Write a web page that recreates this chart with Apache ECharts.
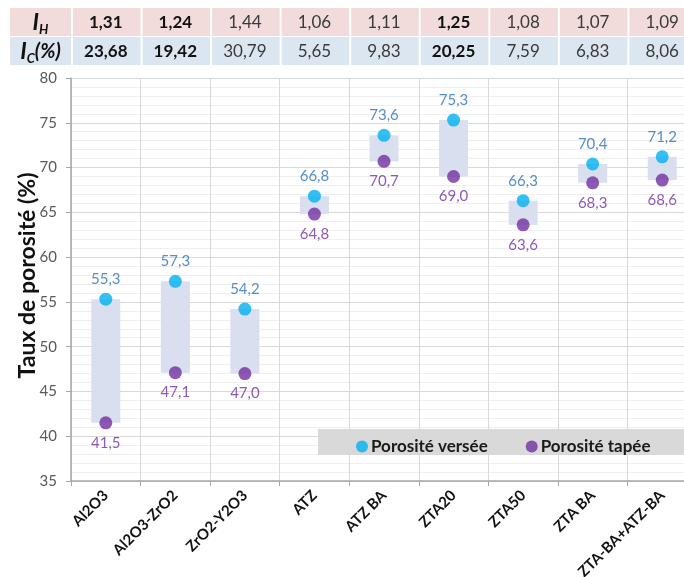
<!DOCTYPE html>
<html>
<head>
<meta charset="utf-8">
<script src="https://cdn.jsdelivr.net/npm/echarts@6/dist/echarts.min.js"></script>
<style>
  html, body { margin: 0; padding: 0; background: #ffffff; }
  #chart { width: 684px; height: 577px; }
</style>
</head>
<body>
<div id="chart"></div>
<script>
// Materials
const categories = ['Al2O3', 'Al2O3-ZrO2', 'ZrO2-Y2O3', 'ATZ', 'ATZ BA', 'ZTA20', 'ZTA50', 'ZTA BA', 'ZTA-BA+ATZ-BA'];
// Poured (bulk) and tapped porosity, %
const porositeVersee = [55.3, 57.3, 54.2, 66.8, 73.6, 75.3, 66.3, 70.4, 71.2];
const porositeTapee  = [41.5, 47.1, 47.0, 64.8, 70.7, 69.0, 63.6, 68.3, 68.6];
// Hausner ratio and Carr index table above the plot
const indiceHausner = ['1,31', '1,24', '1,44', '1,06', '1,11', '1,25', '1,08', '1,07', '1,09'];
const indiceCarr    = ['23,68', '19,42', '30,79', '5,65', '9,83', '20,25', '7,59', '6,83', '8,06'];
const colonnesGras  = [0, 1, 5];
// Y axis ticks and title
const yMin = 35, yMax = 80, yStep = 5;
const yTitle = 'Taux de porosité (%)';

const FONT = 'Lato';
const fmt = v => v.toFixed(1).replace('.', ',');

const chart = echarts.init(document.getElementById('chart'), null, { renderer: 'canvas' });

const rangeData = categories.map((c, i) => [i, porositeTapee[i], porositeVersee[i]]);

const option = {
  animation: false,
  backgroundColor: '#ffffff',
  textStyle: { fontFamily: FONT },
  grid: { left: 71, right: -13, top: 78, bottom: 96, containLabel: false, outerBoundsMode: 'none' },
  legend: {
    left: 351, top: 433,
    data: ['Porosité versée', 'Porosité tapée'],
    icon: 'circle', itemWidth: 12, itemHeight: 12, itemGap: 38,
    textStyle: { fontFamily: FONT, fontSize: 17, fontWeight: 'bold', color: '#1a1a1a', padding: [0, 0, 0, -2] }
  },
  xAxis: {
    type: 'category',
    data: categories,
    boundaryGap: true,
    axisLine: { show: true, lineStyle: { color: '#a6a6a6', width: 1.5 } },
    axisTick: { show: true, length: 5, lineStyle: { color: '#a6a6a6' } },
    splitLine: { show: true, interval: 0, lineStyle: { color: '#d9d9d9', width: 1 } },
    axisLabel: {
      interval: 0, rotate: 45, margin: 12,
      fontFamily: FONT, fontSize: 15, fontWeight: 'bold', color: '#111111'
    }
  },
  yAxis: {
    type: 'value',
    min: yMin, max: yMax, interval: yStep,
    axisLine: { show: true, lineStyle: { color: '#a6a6a6', width: 1.5 } },
    axisTick: { show: true, length: 5, lineStyle: { color: '#a6a6a6' } },
    axisLabel: { margin: 14, fontFamily: FONT, fontSize: 15, color: '#595959' },
    splitLine: { show: true, lineStyle: { color: '#d9d9d9', width: 1 } },
    minorTick: { show: false, splitNumber: 5 },
    minorSplitLine: { show: true, lineStyle: { color: '#efefef', width: 1 } }
  },
  series: [
    {
      name: 'plage',
      type: 'custom',
      silent: true,
      z: 1,
      encode: { x: 0, y: [1, 2] },
      data: rangeData,
      renderItem: function (params, api) {
        const bottom = api.coord([api.value(0), api.value(1)]);
        const top = api.coord([api.value(0), api.value(2)]);
        const w = 29;
        return {
          type: 'rect',
          shape: { x: top[0] - w / 2, y: top[1], width: w, height: bottom[1] - top[1] },
          style: { fill: '#d9dfef' }
        };
      }
    },
    {
      name: 'Porosité versée',
      type: 'scatter',
      z: 3,
      symbol: 'circle',
      symbolSize: 13,
      itemStyle: { color: '#00b0f0' },
      data: porositeVersee,
      label: {
        show: true, position: 'top', distance: 6,
        formatter: p => fmt(p.value),
        fontFamily: FONT, fontSize: 15, color: '#2a72b5'
      }
    },
    {
      name: 'Porosité tapée',
      type: 'scatter',
      z: 3,
      symbol: 'circle',
      symbolSize: 13,
      itemStyle: { color: '#7030a0' },
      data: porositeTapee,
      label: {
        show: true, position: 'bottom', distance: 6,
        formatter: p => fmt(p.value),
        fontFamily: FONT, fontSize: 15, color: '#7030a0'
      }
    }
  ]
};

chart.setOption(option);

// Y axis title and the table of indices, aligned on the axes
function buildExtras() {
  const c0 = chart.convertToPixel({ xAxisIndex: 0 }, 0);
  const c1 = chart.convertToPixel({ xAxisIndex: 0 }, 1);
  const catW = c1 - c0;
  const leftEdge = c0 - catW / 2;
  const yMid = chart.convertToPixel({ yAxisIndex: 0 }, (yMin + yMax) / 2);
  const rows = [
    { y: 8, h: 28, fill: '#f2dcdb', values: indiceHausner, sub: 'H', suffix: '' },
    { y: 37, h: 28, fill: '#dce6f1', values: indiceCarr, sub: 'C', suffix: '(%)' }
  ];
  const els = [
    // legend background
    { type: 'rect', left: 318, top: 429, shape: { width: 380, height: 26 }, style: { fill: '#d9d9d9' }, z: 0 },
    // y axis title
    {
      type: 'text', z: 2, x: 28, y: yMid - 4, rotation: Math.PI / 2,
      style: {
        x: 0, y: 0, align: 'center', verticalAlign: 'middle',
        text: yTitle, fontFamily: FONT, fontSize: 23, fontWeight: 'bold', fill: '#111111'
      }
    }
  ];
  rows.forEach(r => {
    els.push({ type: 'rect', shape: { x: 10, y: r.y, width: leftEdge - 10, height: r.h }, style: { fill: r.fill }, z: 0 });
    els.push({
      type: 'text', z: 1,
      style: {
        x: (10 + leftEdge) / 2, y: r.y + r.h / 2 + 1,
        align: 'center', verticalAlign: 'middle',
        text: '{i|I}{s|' + r.sub + '}{p|' + r.suffix + '}',
        rich: {
          i: { fontFamily: FONT, fontSize: 23, fontWeight: 'bold', fontStyle: 'italic', fill: '#111111' },
          s: { fontFamily: FONT, fontSize: 13, fontWeight: 'bold', fontStyle: 'italic', fill: '#111111', padding: [13, 0, 0, 0] },
          p: { fontFamily: FONT, fontSize: 20, fontWeight: 'bold', fontStyle: 'italic', fill: '#111111' }
        }
      }
    });
    r.values.forEach((v, i) => {
      const cx = chart.convertToPixel({ xAxisIndex: 0 }, i);
      els.push({ type: 'rect', shape: { x: cx - catW / 2 + 2, y: r.y, width: catW - 2, height: r.h }, style: { fill: r.fill }, z: 0 });
      const bold = colonnesGras.indexOf(i) >= 0;
      els.push({
        type: 'text', z: 1,
        style: {
          x: cx, y: r.y + r.h / 2 + 1, align: 'center', verticalAlign: 'middle',
          text: v, fontFamily: FONT, fontSize: 17, fontWeight: bold ? 'bold' : 'normal',
          fill: bold ? '#111111' : '#3a3a3a'
        }
      });
    });
  });
  chart.setOption({ graphic: { elements: els } });
}
buildExtras();
</script>
</body>
</html>
